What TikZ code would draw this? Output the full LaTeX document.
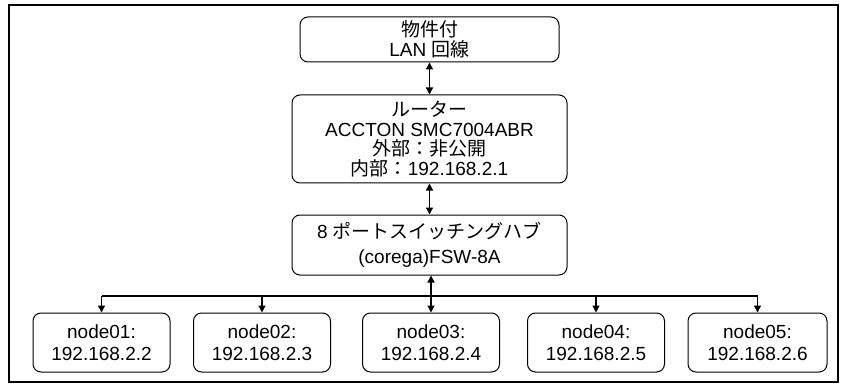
\documentclass[tikz,border=0pt]{standalone}
\usepackage{fontspec}
\setmainfont{Liberation Sans}
\newfontfamily\jp{Noto Sans CJK JP}
\usetikzlibrary{arrows.meta}
\tikzset{
  box/.style={draw=black, line width=1pt, rounded corners=8pt, align=center,
    inner sep=0pt, font=\fontsize{19}{19.5}\selectfont},
  conn/.style={line width=1.3pt, draw=black},
  tip/.style={-{Triangle[length=7pt,width=7pt]}},
  tips/.style={{Triangle[length=7pt,width=7pt]}-{Triangle[length=7pt,width=7pt]}},
  tipstart/.style={{Triangle[length=7pt,width=7pt]}-},
}
\begin{document}
\begin{tikzpicture}[x=1pt,y=-1pt]
\useasboundingbox (0,0) rectangle (841,385);
\draw[line width=2pt] (9,5) rectangle (838,382);
\node[box, minimum width=259pt, minimum height=45pt] (top) at (429.5,39.5)
  {{\jp 物件付}\\[1pt]LAN {\jp 回線}};
\node[box, minimum width=275pt, minimum height=88pt] (router) at (429.5,139)
  {{\jp ルーター}\\ACCTON SMC7004ABR\\{\jp 外部：非公開}\\{\jp 内部：}192.168.2.1};
\node[box, minimum width=275pt, minimum height=60pt] (switch) at (429.5,245)
  {8 {\jp ポートスイッチングハブ}\\[5pt](corega)FSW-8A};
\node[box, minimum width=137pt, minimum height=59pt] (n1) at (101.5,342.5) {node01:\\[3pt]192.168.2.2};
\node[box, minimum width=137pt, minimum height=59pt] (n2) at (262,342.5) {node02:\\[3pt]192.168.2.3};
\node[box, minimum width=137pt, minimum height=59pt] (n3) at (431,342.5) {node03:\\[3pt]192.168.2.4};
\node[box, minimum width=137pt, minimum height=59pt] (n4) at (596,342.5) {node04:\\[3pt]192.168.2.5};
\node[box, minimum width=139pt, minimum height=59pt] (n5) at (757.5,342.5) {node05:\\[3pt]192.168.2.6};
\coordinate (bus) at (431,296);
\draw[conn, tips] (top.south) -- (router.north);
\draw[conn, tips] (router.south) -- (switch.north);
\draw[conn, tipstart] (switch.south -| bus) -- (bus);
\draw[conn] (n1 |- bus) -- (n5 |- bus);
\foreach \n in {n1,n2,n3,n4,n5} { \draw[conn, tip] (\n |- bus) -- (\n.north); }
\end{tikzpicture}
\end{document}
